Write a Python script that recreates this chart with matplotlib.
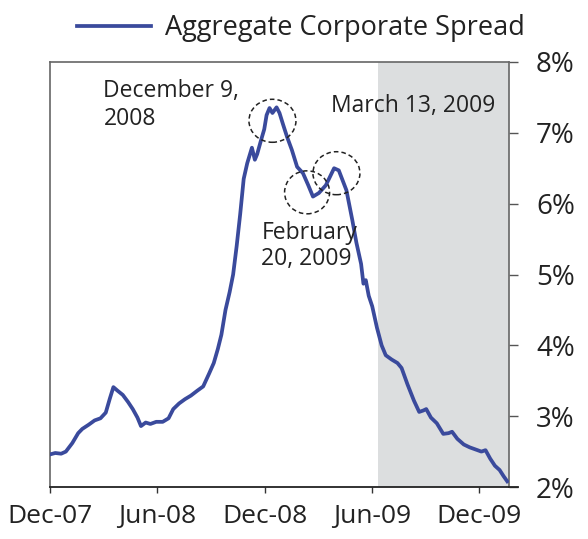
import matplotlib
matplotlib.use("Agg")
import matplotlib.pyplot as plt
import matplotlib.dates as mdates
import matplotlib.transforms as mtransforms
from matplotlib.patches import Ellipse
import pandas as pd

plt.rcParams['font.family'] = ['Open Sans', 'DejaVu Sans']

dates = ["2007-12-01", "2007-12-10", "2007-12-20", "2007-12-28", "2008-01-08", "2008-01-18",
         "2008-01-25", "2008-02-05", "2008-02-15", "2008-02-25", "2008-03-05", "2008-03-12",
         "2008-03-18", "2008-03-25", "2008-04-03", "2008-04-12", "2008-04-20", "2008-04-28",
         "2008-05-04", "2008-05-12", "2008-05-20", "2008-05-30", "2008-06-10", "2008-06-20",
         "2008-06-28", "2008-07-08", "2008-07-18", "2008-07-28", "2008-08-08", "2008-08-18",
         "2008-08-28", "2008-09-05", "2008-09-12", "2008-09-18", "2008-09-25", "2008-10-02",
         "2008-10-08", "2008-10-14", "2008-10-20", "2008-10-26", "2008-11-01", "2008-11-09",
         "2008-11-14", "2008-11-18", "2008-11-24", "2008-11-30", "2008-12-04", "2008-12-09",
         "2008-12-14", "2008-12-21", "2008-12-26", "2009-01-01", "2009-01-08", "2009-01-16",
         "2009-01-25", "2009-02-04", "2009-02-13", "2009-02-21", "2009-03-03", "2009-03-15",
         "2009-03-22", "2009-03-29", "2009-04-06", "2009-04-19", "2009-04-29", "2009-05-06",
         "2009-05-14", "2009-05-18", "2009-05-22", "2009-05-27", "2009-06-02", "2009-06-10",
         "2009-06-18", "2009-06-25", "2009-07-05", "2009-07-15", "2009-07-22", "2009-08-01",
         "2009-08-12", "2009-08-21", "2009-08-28", "2009-09-02", "2009-09-10", "2009-09-20",
         "2009-10-01", "2009-10-10", "2009-10-16", "2009-10-25", "2009-11-05", "2009-11-15",
         "2009-11-25", "2009-12-05", "2009-12-12", "2009-12-20", "2009-12-28", "2010-01-05",
         "2010-01-12", "2010-01-18"]
spread = [2.46, 2.48, 2.47, 2.50, 2.62, 2.76,
          2.82, 2.88, 2.94, 2.97, 3.05, 3.25,
          3.41, 3.36, 3.30, 3.20, 3.10, 2.98,
          2.86, 2.91, 2.89, 2.92, 2.92, 2.97,
          3.10, 3.18, 3.24, 3.29, 3.36, 3.42,
          3.60, 3.75, 3.95, 4.15, 4.50, 4.75,
          5.00, 5.40, 5.85, 6.35, 6.57, 6.79,
          6.62, 6.70, 6.88, 7.05, 7.25, 7.35,
          7.28, 7.36, 7.28, 7.12, 6.94, 6.76,
          6.52, 6.43, 6.26, 6.10, 6.15, 6.26,
          6.38, 6.50, 6.47, 6.19, 5.77, 5.45,
          5.15, 4.87, 4.92, 4.70, 4.55, 4.25,
          4.00, 3.86, 3.80, 3.75, 3.68, 3.45,
          3.22, 3.06, 3.08, 3.10, 2.98, 2.90,
          2.75, 2.76, 2.78, 2.68, 2.60, 2.56,
          2.53, 2.50, 2.52, 2.40, 2.30, 2.24,
          2.15, 2.08]

xtick_dates = ["2007-12-01", "2008-06-01", "2008-12-01", "2009-06-01", "2009-12-01"]
xtick_labels = ["Dec-07", "Jun-08", "Dec-08", "Jun-09", "Dec-09"]
ytick_values = [2, 3, 4, 5, 6, 7, 8]
ytick_labels = ["2%", "3%", "4%", "5%", "6%", "7%", "8%"]
shade_start = "2009-06-12"

x = pd.to_datetime(dates)
line_color = "#3a4a9c"

fig = plt.figure(figsize=(5.88, 5.39), dpi=100)
ax = fig.add_axes([50 / 588, 1 - 487 / 539, 459 / 588, 425 / 539])

xmin = pd.Timestamp("2007-12-01")
xmax = pd.Timestamp("2010-01-21")
ax.axvspan(pd.Timestamp(shade_start), xmax, color="#dcdedf", zorder=0, lw=0)
ax.plot(x, spread, color=line_color, lw=2.7, solid_joinstyle="round", zorder=3,
        label="Aggregate Corporate Spread")

ax.set_xlim(xmin, xmax)
ax.set_ylim(2, 8)

ax.set_xticks(pd.to_datetime(xtick_dates))
ax.set_xticklabels(xtick_labels)
ax.set_yticks(ytick_values)
ax.set_yticklabels(ytick_labels)
ax.yaxis.tick_right()
ax.tick_params(axis="y", which="both", direction="out", length=6.5, width=1.0,
               color="#555555", labelsize=20, pad=13, labelcolor="#222222")
ax.tick_params(axis="x", direction="out", length=4, width=1.0, color="#333333",
               labelsize=19, pad=8, labelcolor="#222222")

for side in ["left", "top", "right"]:
    ax.spines[side].set_color("#666666")
    ax.spines[side].set_linewidth(1.2)
ax.spines["bottom"].set_color("#222222")
ax.spines["bottom"].set_linewidth(1.3)
ax.plot([1, 1.02], [0, 0], transform=ax.transAxes, color="#222222", lw=1.3, clip_on=False)

# annotations
ax.text(pd.Timestamp("2008-03-01"), 7.76, "December 9,\n2008", fontsize=16.5,
        color="#222222", va="top", ha="left", linespacing=1.2)
ax.text(pd.Timestamp("2009-03-23"), 7.21, "March 13, 2009", fontsize=16.5,
        color="#222222", va="bottom", ha="left")
ax.text(pd.Timestamp("2008-11-25"), 5.76, "February\n20, 2009", fontsize=16.5,
        color="#222222", va="top", ha="left", linespacing=1.15)

circles = [("2008-12-14", 7.17, 0.47, 0.43),
           ("2009-02-11", 6.16, 0.45, 0.43),
           ("2009-04-02", 6.43, 0.47, 0.43)]
for d, v, w, h in circles:
    tr = fig.dpi_scale_trans + mtransforms.ScaledTranslation(
        mdates.date2num(pd.Timestamp(d)), v, ax.transData)
    ax.add_patch(Ellipse((0, 0), w, h, transform=tr, fill=False, ec="#222222",
                         lw=1.1, ls=(0, (3, 2)), zorder=4, clip_on=False))

fig.legend(handles=ax.get_lines()[:1], loc="center left",
           bbox_to_anchor=(77 / 588, 1 - 28 / 539), frameon=False, fontsize=19.5,
           handlelength=2.75, handletextpad=0.5, borderaxespad=0, borderpad=0,
           labelcolor="#222222")

fig.savefig("out.png", dpi=100)
